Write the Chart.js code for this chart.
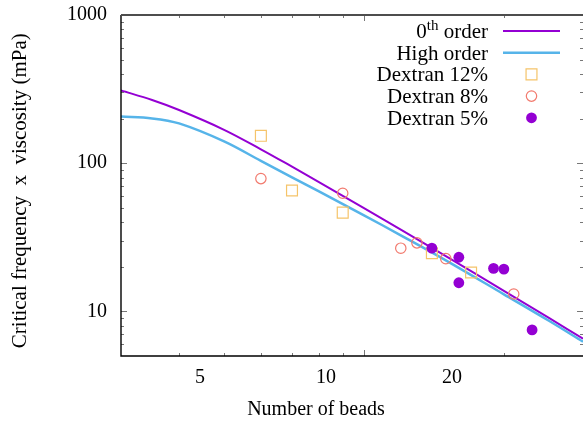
<!DOCTYPE html>
<html>
<head>
<meta charset="utf-8">
<script src="https://cdn.jsdelivr.net/npm/chart.js"></script>
<style>
  body { margin: 0; background: #ffffff; }
</style>
</head>
<body>
<canvas id="myChart" width="583" height="426"></canvas>
<script>
const ctx = document.getElementById("myChart");

// curvas teoricas (numero de beads -> frecuencia critica x viscosidad)
const curvaBeads = [3, 3.5, 4, 5, 6, 7, 8, 10, 12, 15, 20, 25, 29.6];
const orden0 = [309.7, 266.9, 228.4, 168.0, 124.1, 94.7, 74.6, 49.7, 35.6, 23.6, 13.77, 9.04, 6.54];
const ordenAlto = [206.2, 200.5, 185.5, 140.3, 103.6, 80.2, 64.5, 44.5, 32.6, 22.1, 13.04, 8.64, 6.24];

// medidas
const beads12 = [6, 7, 9, 14, 17];
const dextran12 = [153, 65.4, 46.4, 24.7, 18.3];
const beads8 = [6, 9, 12, 13, 15, 21];
const dextran8 = [78.7, 62.7, 26.7, 29.0, 22.7, 13.1];
const beads5 = [14, 16, 16, 19, 20, 23];
const dextran5 = [26.7, 23.2, 15.6, 19.5, 19.3, 7.5];

// ejes
const rangoX = [3, 29.6];
const rangoY = [5, 1000];
const rangoEtiquetasX = [3.24, 41.1]; // las etiquetas del original no caen sobre las marcas
const etiquetasX = [5, 10, 20];
const etiquetasY = [10, 100, 1000];
const marcasXMayores = [10];
const marcasXMenores = [4, 5, 6, 7, 8, 9, 20];
const marcasYMayores = [10, 100, 1000];
const marcasYMenores = [6, 7, 8, 9, 20, 30, 40, 50, 60, 70, 80, 90, 200, 300, 400, 500, 600, 700, 800, 900];

const fuente = (t) => `${t}px "Liberation Serif"`;
const puntos = (xs, ys) => xs.map((x, i) => ({ x: x, y: ys[i] }));

Chart.defaults.font.family = '"Liberation Serif", serif';
Chart.defaults.font.size = 20;
Chart.defaults.color = "#000000";

const sinPadding = (escala) => {
  escala.paddingTop = 0;
  escala.paddingBottom = 0;
  escala.paddingLeft = 0;
  escala.paddingRight = 0;
};

const dibujarMarcas = (chart) => {
  const c = chart.ctx;
  const { left, right, top, bottom } = chart.chartArea;
  const x = chart.scales.x;
  const y = chart.scales.y;
  c.save();
  c.strokeStyle = "#777777";
  c.lineWidth = 1;
  const marcaX = (v, largo) => {
    const px = Math.round(x.getPixelForValue(v)) + 0.5;
    c.beginPath();
    c.moveTo(px, bottom); c.lineTo(px, bottom - largo);
    c.moveTo(px, top); c.lineTo(px, top + largo);
    c.stroke();
  };
  const marcaY = (v, largo) => {
    const py = Math.round(y.getPixelForValue(v)) + 0.5;
    c.beginPath();
    c.moveTo(left, py); c.lineTo(left + largo, py);
    c.moveTo(right, py); c.lineTo(right - largo, py);
    c.stroke();
  };
  marcasXMayores.forEach((v) => marcaX(v, 6));
  marcasXMenores.forEach((v) => marcaX(v, 3));
  marcasYMayores.forEach((v) => marcaY(v, 6));
  marcasYMenores.forEach((v) => marcaY(v, 3));

  // marco
  c.strokeStyle = "#000000";
  c.lineWidth = 1.4;
  c.beginPath();
  c.moveTo(left, top); c.lineTo(left, bottom); c.lineTo(right, bottom);
  c.stroke();
  c.strokeStyle = "#4d4d4d";
  c.lineWidth = 2;
  c.beginPath();
  c.moveTo(left, top); c.lineTo(right, top);
  c.stroke();
  c.restore();
};

const dibujarLeyenda = (chart) => {
  const c = chart.ctx;
  const area = chart.chartArea;
  const xTexto = area.right - 95;
  const xMuestra1 = area.right - 80;
  const xMuestra2 = area.right - 23;
  c.save();
  chart.data.datasets.forEach((ds, i) => {
    const yFila = area.top + 16 + i * 21.7;
    const base = yFila + 7;
    c.fillStyle = "#000000";
    c.textBaseline = "alphabetic";
    const sup = ds.label.match(/^(\d+)(th)(.*)$/);
    if (sup) {
      c.font = fuente(21);
      const w1 = c.measureText(sup[1]).width;
      const w3 = c.measureText(sup[3]).width;
      c.font = fuente(15);
      const w2 = c.measureText(sup[2]).width;
      let xt = xTexto - w1 - w2 - w3;
      c.textAlign = "left";
      c.font = fuente(21);
      c.fillText(sup[1], xt, base);
      xt += w1;
      c.font = fuente(15);
      c.fillText(sup[2], xt, base - 8);
      xt += w2;
      c.font = fuente(21);
      c.fillText(sup[3], xt, base);
    } else {
      c.textAlign = "right";
      c.font = fuente(21);
      c.fillText(ds.label, xTexto, base);
    }
    if (ds.showLine) {
      c.strokeStyle = ds.borderColor;
      c.lineWidth = ds.borderWidth;
      c.beginPath();
      c.moveTo(xMuestra1, yFila);
      c.lineTo(xMuestra2, yFila);
      c.stroke();
    } else {
      c.strokeStyle = ds.pointBorderColor;
      c.fillStyle = ds.pointBackgroundColor;
      c.lineWidth = ds.pointBorderWidth;
      Chart.helpers.drawPoint(c, {
        pointStyle: ds.pointStyle,
        radius: ds.pointRadius,
        borderWidth: ds.pointBorderWidth,
        rotation: 0,
      }, (xMuestra1 + xMuestra2) / 2, yFila);
    }
  });

  // titulo del eje x
  c.fillStyle = "#000000";
  c.font = fuente(20);
  c.textAlign = "center";
  c.textBaseline = "middle";
  c.fillText("Number of beads", area.left + 195, chart.height - 16);
  c.restore();
};

const estiloGnuplot = {
  id: "estiloGnuplot",
  afterDraw: (chart) => {
    dibujarMarcas(chart);
    dibujarLeyenda(chart);
  },
};

const crearGrafico = () => {
  new Chart(ctx, {
    type: "scatter",
    data: {
      datasets: [
        {
          label: "0th order",
          data: puntos(curvaBeads, orden0),
          showLine: true,
          borderColor: "#9400d3",
          borderWidth: 2,
          pointRadius: 0,
          tension: 0.35,
          order: 5,
        },
        {
          label: "High order",
          data: puntos(curvaBeads, ordenAlto),
          showLine: true,
          borderColor: "#56b4e9",
          borderWidth: 2.5,
          pointRadius: 0,
          tension: 0.35,
          order: 4,
        },
        {
          label: "Dextran 12%",
          data: puntos(beads12, dextran12),
          pointStyle: "rect",
          pointRadius: 7.7,
          pointBorderColor: "#f5c46a",
          pointBackgroundColor: "rgba(0,0,0,0)",
          pointBorderWidth: 1.2,
          order: 3,
        },
        {
          label: "Dextran 8%",
          data: puntos(beads8, dextran8),
          pointStyle: "circle",
          pointRadius: 5.2,
          pointBorderColor: "#f27a6e",
          pointBackgroundColor: "rgba(0,0,0,0)",
          pointBorderWidth: 1.2,
          order: 2,
        },
        {
          label: "Dextran 5%",
          data: puntos(beads5, dextran5),
          pointStyle: "circle",
          pointRadius: 5.4,
          pointBorderColor: "#9400d3",
          pointBackgroundColor: "#9400d3",
          pointBorderWidth: 0,
          order: 1,
        },
      ],
    },
    options: {
      responsive: false,
      animation: false,
      layout: { autoPadding: false, padding: { top: 15, right: 0, bottom: 0, left: 0 } },
      plugins: {
        legend: { display: false },
        tooltip: { enabled: false },
      },
      scales: {
        x: {
          type: "logarithmic",
          position: "bottom",
          min: rangoX[0],
          max: rangoX[1],
          afterFit: (escala) => {
            escala.height = 0;
            sinPadding(escala);
          },
          ticks: { display: false },
          grid: { display: false, drawTicks: false },
          border: { display: false },
        },
        xEtiquetas: {
          type: "logarithmic",
          position: "bottom",
          min: rangoEtiquetasX[0],
          max: rangoEtiquetasX[1],
          afterBuildTicks: (escala) => {
            escala.ticks = etiquetasX.map((v) => ({ value: v }));
          },
          afterFit: (escala) => {
            escala.height = 70;
            sinPadding(escala);
          },
          ticks: {
            callback: (v) => String(v),
            padding: 10,
            maxRotation: 0,
            autoSkip: false,
          },
          grid: { display: false, drawTicks: false },
          border: { display: false },
        },
        y: {
          type: "logarithmic",
          min: rangoY[0],
          max: rangoY[1],
          afterBuildTicks: (escala) => {
            escala.ticks = etiquetasY.map((v) => ({ value: v }));
          },
          afterFit: (escala) => {
            escala.width = 121;
            sinPadding(escala);
          },
          ticks: {
            callback: (v) => String(v),
            padding: 14,
          },
          grid: { display: false, drawTicks: false },
          border: { display: false },
          title: {
            display: true,
            text: "Critical frequency  x  viscosity (mPa)  ",
            font: { size: 21 },
            padding: { top: 8, bottom: 0 },
          },
        },
      },
    },
    plugins: [estiloGnuplot],
  });
};

crearGrafico();
</script>
</body>
</html>
